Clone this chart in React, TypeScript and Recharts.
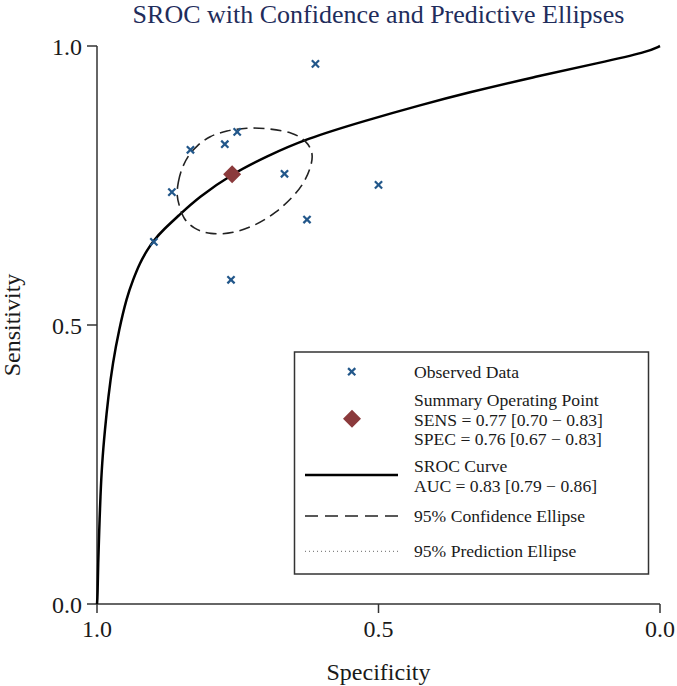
import React from 'react';
import { ScatterChart, Scatter, XAxis, YAxis, Legend } from 'recharts';

// observed study points (specificity, sensitivity)
const observedSpec = [0.612, 0.834, 0.773, 0.751, 0.867, 0.899, 0.667, 0.627, 0.5, 0.762];
const observedSens = [0.968, 0.814, 0.824, 0.846, 0.738, 0.649, 0.771, 0.689, 0.751, 0.581];

// summary operating point
const summarySpec = [0.76];
const summarySens = [0.77];

// SROC curve
const srocSpec = [1.0, 0.999, 0.998, 0.996, 0.994, 0.991, 0.986, 0.98, 0.972, 0.961, 0.947, 0.936, 0.924, 0.911, 0.899, 0.881, 0.856, 0.821, 0.758, 0.699, 0.631, 0.521, 0.426, 0.343, 0.226, 0.107, 0.023, 0.0];
const srocSens = [0.0, 0.013, 0.073, 0.133, 0.192, 0.253, 0.312, 0.371, 0.432, 0.491, 0.55, 0.581, 0.611, 0.634, 0.652, 0.672, 0.695, 0.728, 0.772, 0.802, 0.833, 0.867, 0.894, 0.916, 0.944, 0.97, 0.989, 1.0];

// 95% confidence ellipse outline
const ellipseSpec = [0.859, 0.856, 0.85, 0.838, 0.823, 0.8, 0.77, 0.735, 0.693, 0.652, 0.628, 0.616, 0.619, 0.631, 0.652, 0.681, 0.717, 0.758, 0.8, 0.829, 0.847, 0.853];
const ellipseSens = [0.732, 0.756, 0.78, 0.804, 0.821, 0.839, 0.848, 0.854, 0.852, 0.845, 0.83, 0.809, 0.786, 0.756, 0.729, 0.702, 0.679, 0.664, 0.662, 0.673, 0.691, 0.711];

const xTicks = [1, 0.5, 0];
const yTicks = [0, 0.5, 1];

const legendLines = {
  observed: 'Observed Data',
  summary: ['Summary Operating Point', 'SENS = 0.77 [0.70 \u2212 0.83]', 'SPEC = 0.76 [0.67 \u2212 0.83]'],
  curve: ['SROC Curve', 'AUC = 0.83 [0.79 \u2212 0.86]'],
  conf: '95% Confidence Ellipse',
  pred: '95% Prediction Ellipse',
};

const toPoints = (spec: number[], sens: number[]) => spec.map((s, i) => ({ spec: s, sens: sens[i] }));

const observed = toPoints(observedSpec, observedSens);
const summary = toPoints(summarySpec, summarySens);
const sroc = toPoints(srocSpec, srocSens);
const ellipse = toPoints(ellipseSpec, ellipseSens);

const FONT = '"Liberation Serif", "Times New Roman", serif';
const BLUE = '#22578a';
const MAROON = '#8b3a3c';
const AXIS = '#333';

const Cross = (props: any) => {
  const { cx, cy } = props;
  if (cx == null || cy == null) return <g />;
  const r = 3.6;
  return (
    <g stroke={BLUE} strokeWidth={2.2}>
      <line x1={cx - r} y1={cy - r} x2={cx + r} y2={cy + r} />
      <line x1={cx - r} y1={cy + r} x2={cx + r} y2={cy - r} />
    </g>
  );
};

const Diamond = (props: any) => {
  const { cx, cy } = props;
  if (cx == null || cy == null) return <g />;
  const r = 9;
  return <path d={`M${cx},${cy - r}L${cx + r},${cy}L${cx},${cy + r}L${cx - r},${cy}Z`} fill={MAROON} />;
};

const NoDot = () => <g />;

const renderLegend = () => {
  const tx = 124;
  return (
    <svg width={362} height={230} style={{ display: 'block' }}>
      <rect x={4.5} y={4} width={354} height={222} fill="#fff" stroke={AXIS} strokeWidth={1.5} />
      <Cross cx={61.7} cy={23.7} />
      <Diamond cx={62} cy={70.7} />
      <line x1={15} x2={108} y1={127} y2={127} stroke="#000" strokeWidth={2.5} />
      <line x1={15} x2={108} y1={168} y2={168} stroke="#222" strokeWidth={1.5} strokeDasharray="13 7" />
      <line x1={15} x2={108} y1={203.3} y2={203.3} stroke="#666" strokeWidth={1} strokeDasharray="1 3" />
      <g fontFamily={FONT} fontSize={17.6} fill="#1a1a1a">
        <text x={tx} y={30.3}>{legendLines.observed}</text>
        <text x={tx} y={58.3}>{legendLines.summary[0]}</text>
        <text x={tx} y={77.8}>{legendLines.summary[1]}</text>
        <text x={tx} y={97.3}>{legendLines.summary[2]}</text>
        <text x={tx} y={124.3}>{legendLines.curve[0]}</text>
        <text x={tx} y={143.8}>{legendLines.curve[1]}</text>
        <text x={tx} y={174.3}>{legendLines.conf}</text>
        <text x={tx} y={209.3}>{legendLines.pred}</text>
      </g>
    </svg>
  );
};

const tickStyle = { fontSize: 24, fill: '#1a1a1a', fontFamily: FONT };

export default function App() {
  return (
    <div style={{ position: 'absolute', left: 0, top: 0, width: 677, height: 686, background: '#fff' }}>
      <div
        style={{
          position: 'absolute',
          left: 97,
          top: 2,
          width: 563,
          textAlign: 'center',
          fontFamily: FONT,
          fontSize: 26,
          lineHeight: '26px',
          color: '#1f2d5c',
          whiteSpace: 'nowrap',
        }}
      >
        SROC with Confidence and Predictive Ellipses
      </div>
      <ScatterChart width={677} height={686} margin={{ top: 46, right: 17, bottom: 0, left: 0 }}>
        <XAxis
          type="number"
          dataKey="spec"
          domain={[0, 1]}
          reversed
          ticks={xTicks}
          interval={0}
          height={82}
          tickSize={9}
          tickMargin={7}
          tickFormatter={(v: number) => v.toFixed(1)}
          tick={tickStyle}
          axisLine={{ stroke: AXIS, strokeWidth: 1.5 }}
          tickLine={{ stroke: AXIS, strokeWidth: 1.5 }}
          label={{ value: 'Specificity', position: 'insideTop', offset: 59, fontSize: 24, fill: '#1a1a1a', fontFamily: FONT }}
        />
        <YAxis
          type="number"
          dataKey="sens"
          domain={[0, 1]}
          ticks={yTicks}
          interval={0}
          width={97}
          tickSize={10}
          tickMargin={5}
          tickFormatter={(v: number) => v.toFixed(1)}
          tick={tickStyle}
          axisLine={{ stroke: AXIS, strokeWidth: 1.5 }}
          tickLine={{ stroke: AXIS, strokeWidth: 1.5 }}
          label={{
            value: 'Sensitivity',
            angle: -90,
            position: 'insideLeft',
            offset: 11.5,
            fontSize: 24,
            fill: '#1a1a1a',
            fontFamily: FONT,
            style: { textAnchor: 'middle' },
          }}
        />
        <Legend
          layout="horizontal"
          verticalAlign="middle"
          align="center"
          content={renderLegend}
          wrapperStyle={{ left: 290, top: 348, width: 362, height: 230 }}
        />
        <Scatter
          name="SROC Curve"
          data={sroc}
          shape={NoDot}
          line={{ stroke: '#000', strokeWidth: 2.5 }}
          lineJointType="basis"
          isAnimationActive={false}
        />
        <Scatter
          name="95% Confidence Ellipse"
          data={ellipse}
          shape={NoDot}
          line={{ stroke: '#222', strokeWidth: 1.6, strokeDasharray: '11 6' }}
          lineJointType="basisClosed"
          isAnimationActive={false}
        />
        <Scatter name="Observed Data" data={observed} shape={Cross} isAnimationActive={false} />
        <Scatter name="Summary Operating Point" data={summary} shape={Diamond} isAnimationActive={false} />
      </ScatterChart>
    </div>
  );
}
